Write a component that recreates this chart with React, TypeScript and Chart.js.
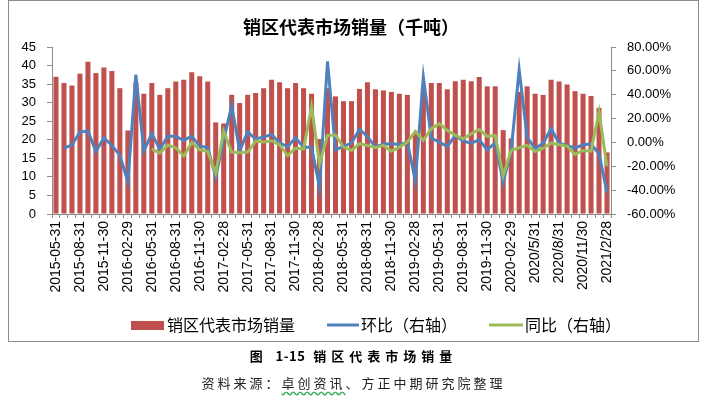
import React, { useEffect, useRef } from "react";
import { Chart, registerables } from "chart.js";

Chart.register(...registerables);

const categories = [
  "2015-05-31", "2015-06-30", "2015-07-31", "2015-08-31", "2015-09-30", "2015-10-31", "2015-11-30", "2015-12-31",
  "2016-01-31", "2016-02-29", "2016-03-31", "2016-04-30", "2016-05-31", "2016-06-30", "2016-07-31", "2016-08-31", "2016-09-30", "2016-10-31", "2016-11-30", "2016-12-31",
  "2017-01-31", "2017-02-28", "2017-03-31", "2017-04-30", "2017-05-31", "2017-06-30", "2017-07-31", "2017-08-31", "2017-09-30", "2017-10-31", "2017-11-30", "2017-12-31",
  "2018-01-31", "2018-02-28", "2018-03-31", "2018-04-30", "2018-05-31", "2018-06-30", "2018-07-31", "2018-08-31", "2018-09-30", "2018-10-31", "2018-11-30", "2018-12-31",
  "2019-01-31", "2019-02-28", "2019-03-31", "2019-04-30", "2019-05-31", "2019-06-30", "2019-07-31", "2019-08-31", "2019-09-30", "2019-10-31", "2019-11-30", "2019-12-31",
  "2020-01-31", "2020-02-29", "2020/3/31", "2020/4/30", "2020/5/31", "2020/6/30", "2020/7/31", "2020/8/31", "2020/9/30", "2020/10/31", "2020/11/30", "2020/12/31",
  "2021/1/31", "2021/2/28",
];

const sales = [
  37.0, 35.3, 34.6, 37.8, 41.0, 38.0, 39.5, 38.5, 33.9, 22.5,
  35.5, 32.4, 35.3, 32.1, 33.9, 35.7, 36.2, 38.2, 37.1, 35.7,
  24.7, 24.4, 32.1, 29.9, 32.1, 32.6, 33.9, 36.2, 35.5, 33.9,
  35.3, 33.9, 32.4, 20.2, 33.9, 31.7, 30.4, 30.4, 33.7, 35.5,
  33.6, 33.3, 32.9, 32.4, 32.1, 22.0, 34.2, 35.3, 35.3, 33.6,
  35.8, 36.2, 35.8, 36.9, 34.4, 34.4, 22.6, 20.4, 32.9, 34.4,
  32.4, 32.1, 36.2, 35.7, 34.9, 33.1, 32.4, 31.8, 28.6, 16.6,
];

// 环比 (%), month-on-month
const momPct = [
  null, -4.8, -2, 8.7, 9.5, -7.6, 3.9, -2.5, -10.9, -33,
  56.8, -7, 7.6, -5.9, 5.3, 5, 1.7, 5.3, -3.1, -4.2,
  -29, 2, 31, -7, 8.7, 3, 4.5, 6.7, -0.3, -3.6,
  3.9, -4, -4, -37.5, 68, -6.2, -3.4, -0.6, 10.9, 5,
  -3.9, -1.4, -1.1, -1.7, 0, -32, 54.8, 3.6, 0.3, -3.4,
  5.9, 1.1, -0.6, 2.2, -6.2, -0.3, -33.3, -6.7, 61, 4.2,
  -5.3, -0.6, 11.5, -0.6, -2.5, -4.8, -2, -1.4, -9.5, -42,
];

// 同比 (%), year-on-year
const yoyPct = [
  null, null, null, null, null, null, null, null, null, null,
  null, null, -5.6, -9, -2.2, -4.5, -11.5, 0, -6.2, -7.6,
  -25.7, 9.2, -8.1, -8.7, -8.1, 1.1, 0.3, 1.4, -2, -11,
  -4.8, -5.6, 30, -18, 5.9, 6.2, -3.9, -6.7, -1.1, -2.5,
  -4.5, -2.5, -7.3, -3.9, 0.3, 9.2, 1.7, 11.5, 15.7, 10.1,
  5.9, 3.1, 7.3, 10.9, 5, 5.9, -27.7, -6.7, -4.5, -2.5,
  -7.6, -4.8, -0.6, -2, -3.1, -10, -6.7, -7.3, 25.5, -20.1,
];

const seriesNames = ["销区代表市场销量", "环比（右轴）", "同比（右轴）"];
const chartTitle = "销区代表市场销量（千吨）";

const RED = "#C0504D";
const BLUE = "#4F81BD";
const GREEN = "#9BBB59";
const AXIS = "#8C8C8C";
const FONT = "'Liberation Sans', Arial, sans-serif";
const CJK = "'Noto Sans CJK SC', sans-serif";

const decorPlugin = {
  id: "decor",
  afterDraw(chart: any) {
    const ctx = chart.ctx;
    ctx.save();
    ctx.fillStyle = "#000";
    ctx.font = `bold 18px ${CJK}`;
    ctx.textAlign = "center";
    ctx.textBaseline = "middle";
    ctx.fillText(chartTitle, 351, 27);

    // legend
    const ly = 325;
    ctx.font = `16px ${CJK}`;
    ctx.textAlign = "left";
    ctx.fillStyle = RED;
    ctx.fillRect(131, ly - 4, 33, 9);
    ctx.fillStyle = "#000";
    ctx.fillText(seriesNames[0], 167, ly);

    ctx.strokeStyle = BLUE;
    ctx.lineWidth = 3;
    ctx.beginPath();
    ctx.moveTo(327, ly);
    ctx.lineTo(359, ly);
    ctx.stroke();
    ctx.fillText(seriesNames[1], 361, ly);

    ctx.strokeStyle = GREEN;
    ctx.beginPath();
    ctx.moveTo(489, ly);
    ctx.lineTo(523, ly);
    ctx.stroke();
    ctx.fillText(seriesNames[2], 525, ly);
    ctx.restore();
  },
};

export default function App() {
  const ref = useRef<HTMLCanvasElement | null>(null);

  useEffect(() => {
    if (!ref.current) return;
    const chart = new Chart(ref.current, {
      type: "bar",
      data: {
        labels: categories,
        datasets: [
          {
            type: "line",
            label: seriesNames[2],
            data: yoyPct,
            yAxisID: "y1",
            borderColor: GREEN,
            backgroundColor: GREEN,
            borderWidth: 3,
            pointRadius: 0,
            tension: 0,
            order: 1,
          },
          {
            type: "line",
            label: seriesNames[1],
            data: momPct,
            yAxisID: "y1",
            borderColor: BLUE,
            backgroundColor: BLUE,
            borderWidth: 3,
            pointRadius: 0,
            tension: 0,
            order: 2,
          },
          {
            type: "bar",
            label: seriesNames[0],
            data: sales,
            yAxisID: "y",
            backgroundColor: RED,
            categoryPercentage: 1,
            barPercentage: 0.63,
            order: 3,
          },
        ] as any,
      },
      options: {
        responsive: false,
        animation: false,
        layout: { padding: { top: 47, left: 0, right: 0, bottom: 0 } },
        plugins: {
          legend: { display: false },
          title: { display: false },
          tooltip: { enabled: false },
        },
        scales: {
          x: {
            offset: true,
            grid: {
              display: true,
              drawOnChartArea: false,
              drawTicks: true,
              tickLength: 4,
              offset: true,
              color: AXIS,
            },
            border: { display: true, color: AXIS },
            ticks: {
              autoSkip: false,
              maxRotation: 90,
              minRotation: 90,
              padding: 3,
              color: "#000",
              font: { size: 14, family: FONT },
              callback: (_v: any, i: number) => (i % 3 === 0 ? categories[i] : ""),
            },
            afterFit: (s: any) => {
              s.height = 128;
            },
          },
          y: {
            position: "left",
            min: 0,
            max: 45,
            grid: { drawOnChartArea: false, drawTicks: true, tickLength: 5, color: AXIS },
            border: { display: true, color: AXIS },
            ticks: {
              stepSize: 5,
              autoSkip: false,
              padding: 11,
              color: "#000",
              font: { size: 13, family: FONT },
            },
            afterFit: (s: any) => {
              s.width = 52;
            },
          },
          y1: {
            position: "right",
            min: -60,
            max: 80,
            grid: { drawOnChartArea: false, drawTicks: true, tickLength: 5, color: AXIS },
            border: { display: true, color: AXIS },
            ticks: {
              stepSize: 20,
              autoSkip: false,
              padding: 11,
              color: "#000",
              font: { size: 13, family: FONT },
              callback: (v: any) => Number(v).toFixed(2) + "%",
            },
            afterFit: (s: any) => {
              s.width = 96;
            },
          },
        },
      } as any,
      plugins: [decorPlugin],
    });
    return () => chart.destroy();
  }, []);

  return (
    <div style={{ position: "absolute", left: 0, top: 0, width: 707, height: 396, background: "#fff" }}>
      <canvas ref={ref} width={707} height={342} style={{ position: "absolute", left: 0, top: 0, width: 707, height: 342 }} />
      <div
        style={{
          position: "absolute",
          left: 8,
          top: 0,
          width: 691,
          height: 342,
          border: `1px solid ${AXIS}`,
          boxSizing: "border-box",
          pointerEvents: "none",
        }}
      />
      <div
        style={{
          position: "absolute",
          left: 0,
          top: 346,
          width: 707,
          textAlign: "center",
          fontFamily: CJK,
          fontWeight: "bold",
          fontSize: 13,
          letterSpacing: 5,
          color: "#000",
          lineHeight: "20px",
        }}
      >
        图 <span style={{ letterSpacing: 0.5 }}>1-15</span> 销区代表市场销量
      </div>
      <div
        style={{
          position: "absolute",
          left: 0,
          top: 373,
          width: 707,
          textAlign: "center",
          fontFamily: CJK,
          fontSize: 13,
          letterSpacing: 3,
          color: "#222",
          lineHeight: "20px",
        }}
      >
        资料来源：
        <span style={{ textDecoration: "underline wavy #2FA84F", textUnderlineOffset: 3 }}>卓创资讯</span>
        、方正中期研究院整理
      </div>
    </div>
  );
}
